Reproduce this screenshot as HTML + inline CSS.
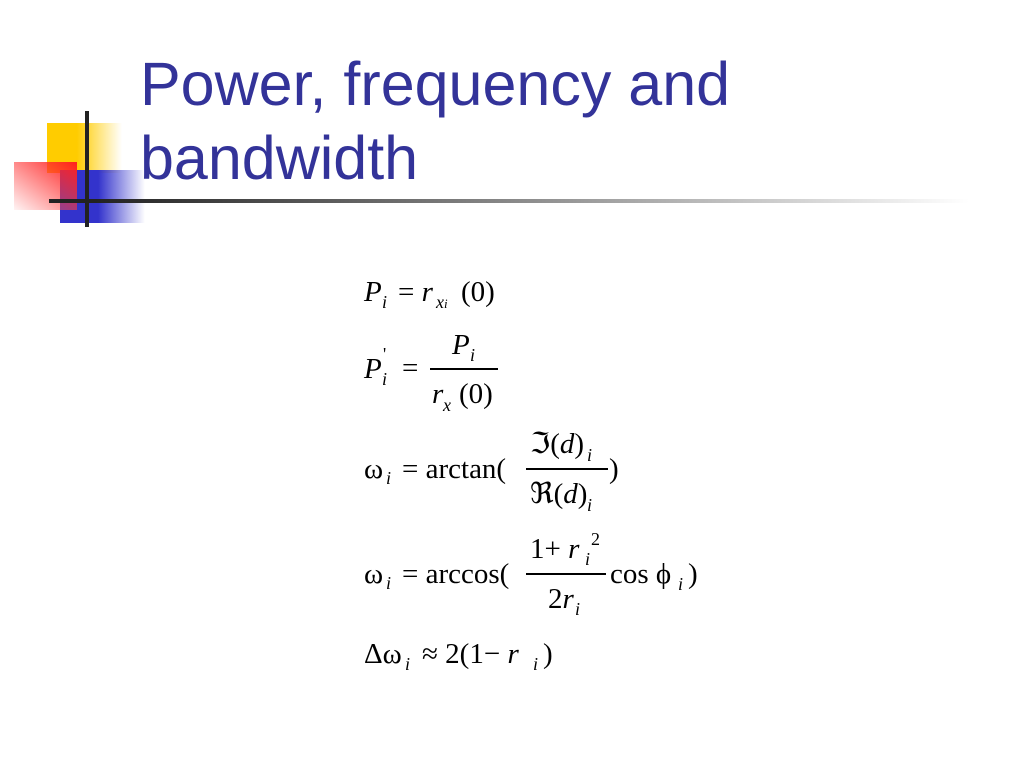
<!DOCTYPE html>
<html><head><meta charset="utf-8"><style>
body{margin:0;width:1024px;height:768px;background:#fff;position:relative;overflow:hidden;font-family:"Liberation Serif",serif;}
.t{position:absolute;left:140px;color:#333399;font-family:"Liberation Sans",sans-serif;font-size:61px;line-height:74px;}
.m{position:absolute;font-size:29px;line-height:1;white-space:nowrap;color:#000;}
i{font-style:italic}
.s{font-size:18px;}
.bar{position:absolute;background:#000;height:2px;}
</style></head><body>
<div style="position:absolute;left:47px;top:123px;width:75px;height:50px;background:linear-gradient(to right,#ffcc00 40%,rgba(255,204,0,0))"></div>
<div style="position:absolute;left:60px;top:170px;width:85px;height:53px;background:linear-gradient(to right,#3333cc 45%,rgba(51,51,204,0))"></div>
<div style="position:absolute;left:14px;top:162px;width:63px;height:48px;background:linear-gradient(to bottom left,#ff2020,rgba(255,200,200,0.2))"></div>
<div style="position:absolute;left:85px;top:111px;width:4px;height:116px;background:#222"></div>
<div style="position:absolute;left:49px;top:199px;width:920px;height:4px;background:linear-gradient(to right,#222 5%,#888 50%,rgba(255,255,255,0))"></div>
<div class="t" style="top:47px">Power, frequency and</div>
<div class="t" style="top:121px">bandwidth</div>

<div class="m" style="left:364px;top:278px"><i>P</i></div>
<div class="m s" style="left:382px;top:293px"><i>i</i></div>
<div class="m" style="left:398px;top:278px">= <i>r</i></div>
<div class="m s" style="left:436px;top:293px"><i>x<span style="font-size:13px">i</span></i></div>
<div class="m" style="left:461px;top:278px">(0)</div>

<div class="m" style="left:364px;top:355px"><i>P</i></div>
<div class="m s" style="left:383px;top:345px">'</div>
<div class="m s" style="left:382px;top:370px"><i>i</i></div>
<div class="m" style="left:402px;top:354px">=</div>
<div class="m" style="left:452px;top:331px"><i>P</i></div>
<div class="m s" style="left:470px;top:346px"><i>i</i></div>
<div class="bar" style="left:430px;top:368px;width:68px"></div>
<div class="m" style="left:432px;top:380px"><i>r</i></div>
<div class="m s" style="left:443px;top:396px"><i>x</i></div>
<div class="m" style="left:459px;top:380px">(0)</div>

<div class="m" style="left:364px;top:455px">ω</div>
<div class="m s" style="left:386px;top:469px"><i>i</i></div>
<div class="m" style="left:402px;top:455px">= arctan(</div>
<div class="m" style="left:530px;top:430px">ℑ(<i>d</i>)</div>
<div class="m s" style="left:587px;top:446px"><i>i</i></div>
<div class="bar" style="left:526px;top:468px;width:82px"></div>
<div class="m" style="left:530px;top:480px">ℜ(<i>d</i>)</div>
<div class="m s" style="left:587px;top:496px"><i>i</i></div>
<div class="m" style="left:609px;top:455px">)</div>

<div class="m" style="left:364px;top:560px">ω</div>
<div class="m s" style="left:386px;top:574px"><i>i</i></div>
<div class="m" style="left:402px;top:560px">= arccos(</div>
<div class="m" style="left:530px;top:535px">1+ <i>r</i></div>
<div class="m s" style="left:591px;top:530px">2</div>
<div class="m s" style="left:585px;top:550px"><i>i</i></div>
<div class="bar" style="left:526px;top:573px;width:80px"></div>
<div class="m" style="left:548px;top:585px">2<i>r</i></div>
<div class="m s" style="left:575px;top:600px"><i>i</i></div>
<div class="m" style="left:610px;top:560px">cos ϕ</div>
<div class="m s" style="left:678px;top:575px"><i>i</i></div>
<div class="m" style="left:688px;top:560px">)</div>

<div class="m" style="left:364px;top:640px">Δω</div>
<div class="m s" style="left:405px;top:655px"><i>i</i></div>
<div class="m" style="left:422px;top:640px">≈ 2(1− <i>r</i></div>
<div class="m s" style="left:533px;top:655px"><i>i</i></div>
<div class="m" style="left:543px;top:640px">)</div>
</body></html>
